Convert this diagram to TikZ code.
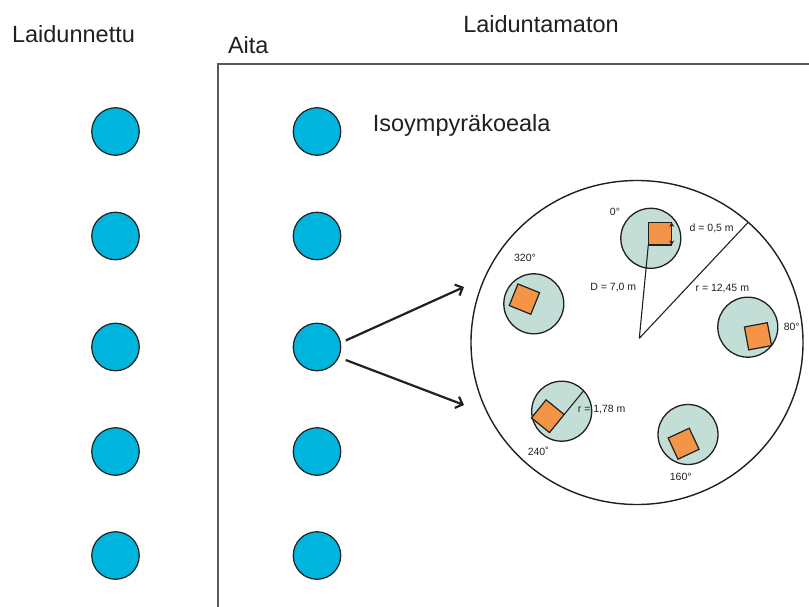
\documentclass[tikz,border=0pt]{standalone}
\usepackage{fontspec}
\setmainfont{Liberation Sans}
\usetikzlibrary{arrows.meta,calc,shapes.geometric}
\definecolor{ink}{HTML}{231F20}
\definecolor{fence}{HTML}{58595B}
\definecolor{plotblue}{HTML}{00B5DD}
\definecolor{subgreen}{HTML}{C3DED6}
\definecolor{quadorange}{HTML}{F39447}
\tikzset{
  bigtext/.style={anchor=base,inner sep=0pt,font=\fontsize{23.5}{28}\selectfont,text=ink},
  smalltext/.style={inner sep=0pt,font=\fontsize{10.5}{12}\selectfont,text=ink},
  plotdot/.style={circle,draw=ink,line width=1.2pt,fill=plotblue,minimum size=47.5pt,inner sep=0pt,outer sep=0pt},
  subplot/.style={circle,draw=ink,line width=1.3pt,fill=subgreen,minimum size=60pt,inner sep=0pt,outer sep=0pt},
  quad/.style={rectangle,draw=ink,line width=1.2pt,fill=quadorange,minimum size=23.3pt,inner sep=0pt,outer sep=0pt},
  pointer/.style={draw=ink,line width=2.2pt,-{Straight Barb[length=6pt,width=12pt]}},
  measure/.style={draw=ink,line width=1.1pt},
  dtip/.style={ink,line width=1pt,{Stealth[length=4.5pt,width=5pt]}-{Stealth[length=4.5pt,width=5pt]}}
}
\begin{document}
\begin{tikzpicture}[x=1pt,y=-1pt]
\useasboundingbox (0,0) rectangle (809,607);
% fence
\draw[fence,line width=2pt] (218.3,607) -- (218.3,64.5) -- (809,64.5);
% titles
\node[bigtext] (tLeft) at (73.5,42.7) {Laidunnettu};
\node[bigtext] (tAita) at (248.3,53.3) {Aita};
\node[bigtext] (tRight) at (541,32.7) {Laiduntamaton};
\node[bigtext] (tIso) at (461.7,131.7) {Isoympyräkoeala};
% plot dots
\foreach \r/\y in {1/131.5,2/236,3/347,4/451.5,5/555.5}{
  \node[plotdot] (b\r l) at (115.5,\y) {};
  \node[plotdot] (b\r r) at (317,\y) {};
}
% big circle
\node[draw=ink,line width=1.4pt,ellipse,minimum width=332pt,minimum height=324pt,inner sep=0pt,outer sep=0pt] (big) at (637,342.5) {};
% arrows
\coordinate (a1) at (464,287);
\coordinate (a2) at (464,405);
\draw[pointer] ([shift={(5,-6.5)}]b3r.east) -- (a1);
\draw[pointer] ([shift={(5,13)}]b3r.east) -- (a2);
% subplots
\node[subplot] (c0) at (650.8,238.3) {};
\node[subplot] (c320) at (533.8,303.8) {};
\node[subplot] (c80) at (747.8,327.2) {};
\node[subplot] (c240) at (561.7,411.2) {};
\node[subplot] (c160) at (688,434.5) {};
% quadrats
\node[quad,minimum width=23.4pt,minimum height=22.7pt] (q0) at (660,233.7) {};
\node[quad,rotate=-22] (q320) at (524.4,299.1) {};
\node[quad,rotate=10.6] (q80) at (758,336.3) {};
\node[quad,rotate=-39] (q240) at (547.8,416.2) {};
\node[quad,rotate=25] (q160) at (683.6,443.7) {};
% measures
\coordinate (ctr) at (639.3,338.3);
\coordinate (rEnd) at (748,222.5);
\draw[measure] (ctr) -- (q0.south west);
\draw[measure] (ctr) -- (rEnd);
\draw[measure] (q240.north east) -- (c240.43);
\draw[dtip] (q0.north east) -- (q0.south east);
% labels
\node[smalltext] (l0) at (615,211.7) {0°};
\node[smalltext] (ld) at (711.7,228.3) {d = 0,5 m};
\node[smalltext] (l320) at (525,257.7) {320°};
\node[smalltext] (lD) at (613.3,287.3) {D = 7,0 m};
\node[smalltext] (lr) at (722.3,288.3) {r = 12,45 m};
\node[smalltext] (l80) at (791.7,326.7) {80°};
\node[smalltext] (lr2) at (601.7,409.3) {r = 1,78 m};
\node[smalltext] (l240) at (538.3,451.7) {240˚};
\node[smalltext] (l160) at (680.7,477.3) {160°};
\end{tikzpicture}
\end{document}
